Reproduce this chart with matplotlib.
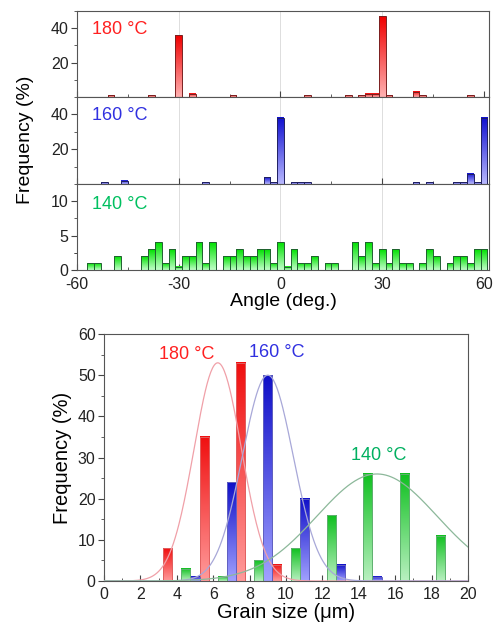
import numpy as np
import matplotlib.pyplot as plt
from matplotlib.colors import to_rgb

plt.rcParams['font.family'] = ['Liberation Sans', 'DejaVu Sans']
plt.rcParams['axes.edgecolor'] = '#555555'
plt.rcParams['xtick.color'] = '#444444'
plt.rcParams['ytick.color'] = '#444444'
plt.rcParams['xtick.labelcolor'] = '#222222'
plt.rcParams['ytick.labelcolor'] = '#222222'

# misorientation angle histograms, 2 deg bins (centres)
ang_180 = [-50, -38, -30, -26, -14, 8, 20, 24, 26, 28, 30, 32, 40, 42, 56]
frq_180 = [1, 1, 36, 2, 1, 1, 1, 1, 2, 2, 47, 1, 3, 1, 1]
ang_160 = [-52, -46, -22, -4, -2, 0, 4, 6, 8, 40, 44, 52, 54, 56, 58, 60]
frq_160 = [1, 2, 1, 4, 1, 38, 1, 1, 1, 1, 1, 1, 1, 6, 1, 38]
ang_140 = [-56, -54, -48, -40, -38, -36, -34, -32, -30, -28, -26, -24, -22, -20,
           -16, -14, -12, -10, -8, -6, -4, -2, 0, 2, 4, 6, 8, 10, 14, 16,
           22, 24, 26, 28, 30, 32, 34, 36, 38, 42, 44, 46, 50, 52, 54, 56, 58, 60]
frq_140 = [1, 1, 2, 2, 3, 4, 1, 3, 0.5, 2, 2, 4, 1, 4,
           2, 2, 3, 2, 2, 3, 3, 1, 4, 0.5, 3, 1, 1, 2, 1, 1,
           4, 2, 4, 1, 3, 1, 3, 1, 1, 1, 3, 2, 1, 2, 2, 1, 3, 3]

# grain size histograms
size_180 = [3.5, 5.5, 7.5, 9.5]
gfrq_180 = [8, 35, 53, 4]
size_160 = [5, 7, 9, 11, 13, 15]
gfrq_160 = [1, 24, 50, 20, 4, 1]
size_140 = [4.5, 6.5, 8.5, 10.5, 12.5, 14.5, 16.5, 18.5]
gfrq_140 = [3, 1, 5, 8, 16, 26, 26, 11]

# gaussian fits: amplitude, centre, sigma
fit_180 = [53, 6.25, 1.3]
fit_160 = [50, 9.0, 1.4]
fit_140 = [26, 15.0, 3.3]

RED_TOP, RED_BOT = '#f00000', '#ffb0b0'
BLU_TOP, BLU_BOT = '#1010d0', '#b8b8ff'
GRN_TOP, GRN_BOT = '#00e000', '#c0ffc8'
TICK_FS = 11.5


def grad_bars(ax, xs, hs, width, top, bot, edge):
    c0 = np.array(to_rgb(bot))
    c1 = np.array(to_rgb(top))
    t = np.linspace(0, 1, 64)[:, None]
    img = (c0 * (1 - t) + c1 * t)[:, None, :]
    for x, h in zip(xs, hs):
        if h <= 0:
            continue
        ax.imshow(img, extent=[x - width / 2, x + width / 2, 0, h],
                  aspect='auto', origin='lower', zorder=2, interpolation='bilinear')
        ax.bar(x, h, width=width, facecolor='none', edgecolor=edge,
               linewidth=0.7, zorder=3)


fig = plt.figure(figsize=(4.93, 6.28), dpi=100)

W, H = 493, 628
left, right = 77 / W, 489 / W
rows = [(11, 97), (97, 184), (184, 270)]
panels = [
    (ang_180, frq_180, RED_TOP, RED_BOT, '#7a2020', '180 \u00b0C', '#ff2020', 50, [20, 40]),
    (ang_160, frq_160, BLU_TOP, BLU_BOT, '#202060', '160 \u00b0C', '#3030e0', 50, [20, 40]),
    (ang_140, frq_140, GRN_TOP, GRN_BOT, '#206030', '140 \u00b0C', '#00c060', 12, [0, 5, 10]),
]
top_axes = []
for (y0, y1), (xs, hs, ct, cb, ce, lab, lc, ymax, yt) in zip(rows, panels):
    ax = fig.add_axes([left, 1 - y1 / H, right - left, (y1 - y0) / H])
    for g in (-30, 0, 30):
        ax.axvline(g, color='#dddddd', lw=0.7, zorder=0)
    grad_bars(ax, xs, hs, 2.0, ct, cb, ce)
    ax.set_xlim(-60, 61.5)
    ax.set_ylim(0, ymax)
    ax.set_yticks(yt)
    ax.set_yticks([v + (yt[1] - yt[0]) / 2 for v in ([0] + yt)], minor=True)
    ax.set_xticks([-60, -30, 0, 30, 60])
    ax.set_xticks([-45, -15, 15, 45], minor=True)
    ax.tick_params(axis='x', which='both', direction='in', labelsize=TICK_FS, pad=5)
    ax.tick_params(axis='x', which='major', length=4)
    ax.tick_params(axis='x', which='minor', length=2)
    ax.tick_params(axis='y', which='major', direction='out', length=4, labelsize=TICK_FS, pad=2)
    ax.tick_params(axis='y', which='minor', direction='out', length=2)
    ax.text(-55.6, ymax * 0.79, lab, color=lc, fontsize=13, va='center', ha='left')
    top_axes.append(ax)
for ax in top_axes[:2]:
    ax.tick_params(axis='x', labelbottom=False)
top_axes[2].set_xticklabels(['-60', '-30', '0', '30', '60'])
top_axes[2].set_xlabel('Angle (deg.)', fontsize=14, labelpad=1)
fig.text(26 / W, 1 - 140 / H, 'Frequency (%)', rotation=90, fontsize=14,
         ha='center', va='center')

# grain size distribution
ax = fig.add_axes([104 / W, 1 - 581 / H, 364 / W, 247 / H])
grad_bars(ax, size_180, gfrq_180, 0.5, '#f01010', '#ff9a9a', '#e06060')
grad_bars(ax, size_160, gfrq_160, 0.5, '#1010c8', '#a0a0ff', '#6060c0')
grad_bars(ax, size_140, gfrq_140, 0.5, '#10c020', '#b8f0c0', '#60b070')

xx = np.linspace(0, 20, 400)
for (a, mu, s), col in ((fit_180, '#f0a0a8'), (fit_160, '#a8a8d8'), (fit_140, '#8cb89a')):
    ax.plot(xx, a * np.exp(-(xx - mu) ** 2 / (2 * s ** 2)), color=col, lw=0.9, zorder=4)

ax.text(4.55, 55, '180 \u00b0C', color='#ff2020', fontsize=13, ha='center', va='center')
ax.text(9.5, 55.5, '160 \u00b0C', color='#3030e0', fontsize=13, ha='center', va='center')
ax.text(15.1, 30.6, '140 \u00b0C', color='#00b060', fontsize=13, ha='center', va='center')

ax.set_xlim(0, 20)
ax.set_ylim(0, 60)
ax.set_xticks(range(0, 21, 2))
ax.set_xticks(range(1, 20, 2), minor=True)
ax.set_yticks(range(0, 61, 10))
ax.set_yticks(range(5, 60, 10), minor=True)
ax.tick_params(axis='x', which='both', direction='in', labelsize=TICK_FS, pad=4)
ax.tick_params(axis='x', which='major', length=4)
ax.tick_params(axis='x', which='minor', length=2)
ax.tick_params(axis='y', which='major', direction='out', length=4, labelsize=TICK_FS, pad=2)
ax.tick_params(axis='y', which='minor', direction='out', length=2)
ax.set_xlabel('Grain size (\u03bcm)', fontsize=14.5, labelpad=1)
ax.set_ylabel('Frequency (%)', fontsize=14.5, labelpad=4)

fig.savefig('out.png', dpi=100)
